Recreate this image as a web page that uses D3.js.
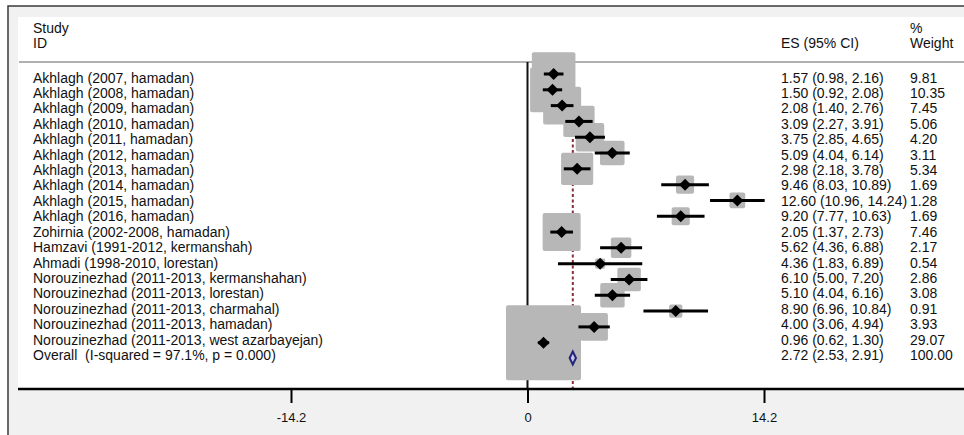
<!DOCTYPE html>
<html>
<head>
<meta charset="utf-8">
<script src="https://cdn.jsdelivr.net/npm/d3@7"></script>
<style>
  body { margin: 0; background: #fff; }
  svg { display: block; font-family: "Liberation Sans", Arial, sans-serif; }
</style>
</head>
<body>
<svg id="chart" width="964" height="435"></svg>
<script>
const studies = [
  "Akhlagh (2007, hamadan)",
  "Akhlagh (2008, hamadan)",
  "Akhlagh (2009, hamadan)",
  "Akhlagh (2010, hamadan)",
  "Akhlagh (2011, hamadan)",
  "Akhlagh (2012, hamadan)",
  "Akhlagh (2013, hamadan)",
  "Akhlagh (2014, hamadan)",
  "Akhlagh (2015, hamadan)",
  "Akhlagh (2016, hamadan)",
  "Zohirnia (2002-2008, hamadan)",
  "Hamzavi (1991-2012, kermanshah)",
  "Ahmadi (1998-2010, lorestan)",
  "Norouzinezhad (2011-2013, kermanshahan)",
  "Norouzinezhad (2011-2013, lorestan)",
  "Norouzinezhad (2011-2013, charmahal)",
  "Norouzinezhad (2011-2013, hamadan)",
  "Norouzinezhad (2011-2013, west azarbayejan)"
];
const es = [1.57, 1.50, 2.08, 3.09, 3.75, 5.09, 2.98, 9.46, 12.60, 9.20, 2.05, 5.62, 4.36, 6.10, 5.10, 8.90, 4.00, 0.96];
const lower = [0.98, 0.92, 1.40, 2.27, 2.85, 4.04, 2.18, 8.03, 10.96, 7.77, 1.37, 4.36, 1.83, 5.00, 4.04, 6.96, 3.06, 0.62];
const upper = [2.16, 2.08, 2.76, 3.91, 4.65, 6.14, 3.78, 10.89, 14.24, 10.63, 2.73, 6.88, 6.89, 7.20, 6.16, 10.84, 4.94, 1.30];
const weights = [9.81, 10.35, 7.45, 5.06, 4.20, 3.11, 5.34, 1.69, 1.28, 1.69, 7.46, 2.17, 0.54, 2.86, 3.08, 0.91, 3.93, 29.07];

const overallLabel = "Overall  (I-squared = 97.1%, p = 0.000)";
const overall = { es: 2.72, lo: 2.53, hi: 2.91, weight: 100.00 };
const tickValues = [-14.2, 0, 14.2];

const svg = d3.select("#chart");
const W = 964, H = 435;
const axisY = 389;
const n = studies.length;

const x = d3.scaleLinear().domain([-14.2, 14.2]).range([291, 764]);
// marker rows and text rows sit slightly apart, as in the Stata output
const yMark = d3.scaleLinear().domain([0, n - 1]).range([74, 342.7]);
const overallY = 358;
const yText = d3.scaleLinear().domain([0, n]).range([77.5, 355]);
const side = d3.scaleSqrt().domain([0, d3.max(weights)]).range([0, 75]);
const fmt = d3.format(".2f");

// frame and backgrounds
svg.append("rect").attr("x", 8).attr("y", 6).attr("width", W).attr("height", H)
  .attr("fill", "#f1f1f1").attr("stroke", "#3a3a3a").attr("stroke-width", 1.5);
svg.append("rect").attr("x", 18).attr("y", 17).attr("width", W - 18).attr("height", axisY - 17)
  .attr("fill", "#fff");

// header
svg.append("line").attr("x1", 19).attr("x2", W).attr("y1", 62).attr("y2", 62)
  .attr("stroke", "#b0b0b0").attr("stroke-width", 2);

const header = svg.append("g").attr("font-size", 14).attr("fill", "#111");
header.append("text").attr("x", 33).attr("y", 33).text("Study");
header.append("text").attr("x", 33).attr("y", 48).text("ID");
header.append("text").attr("x", 781).attr("y", 48).text("ES (95% CI)");
header.append("text").attr("x", 910).attr("y", 33).text("%");
header.append("text").attr("x", 910).attr("y", 48).text("Weight");

// reference lines
svg.append("line").attr("x1", x(0)).attr("x2", x(0)).attr("y1", 62).attr("y2", axisY)
  .attr("stroke", "#111").attr("stroke-width", 2);
svg.append("line").attr("x1", x(overall.es)).attr("x2", x(overall.es)).attr("y1", 62).attr("y2", axisY)
  .attr("stroke", "#8b2d3d").attr("stroke-width", 2).attr("stroke-dasharray", "3,2.5");

const rows = studies.map((s, i) => ({ s, es: es[i], lo: lower[i], hi: upper[i], w: weights[i], i }));

// weight boxes
svg.append("g").selectAll("rect").data(rows).join("rect")
  .attr("x", d => x(d.es) - side(d.w) / 2)
  .attr("y", d => yMark(d.i) - side(d.w) / 2)
  .attr("width", d => side(d.w))
  .attr("height", d => side(d.w))
  .attr("rx", 2)
  .attr("fill", "#b7b7b7");

// CIs
svg.append("g").selectAll("line").data(rows).join("line")
  .attr("x1", d => x(d.lo)).attr("x2", d => x(d.hi))
  .attr("y1", d => yMark(d.i)).attr("y2", d => yMark(d.i))
  .attr("stroke", "#000").attr("stroke-width", 3);

// point estimates
svg.append("g").selectAll("path").data(rows).join("path")
  .attr("d", d => {
    const cx = x(d.es), cy = yMark(d.i), r = 6;
    return `M${cx - r},${cy}L${cx},${cy - r}L${cx + r},${cy}L${cx},${cy + r}Z`;
  })
  .attr("fill", "#000");

// overall diamond
svg.append("path")
  .attr("d", `M${x(overall.lo)},${overallY}L${x(overall.es)},${overallY - 6.5}L${x(overall.hi)},${overallY}L${x(overall.es)},${overallY + 6.5}Z`)
  .attr("fill", "#c8c8e8").attr("stroke", "#23237a").attr("stroke-width", 2);

// text columns
const txt = svg.append("g").attr("font-size", 14).attr("fill", "#111");
txt.selectAll(".lab").data(rows).join("text").attr("class", "lab")
  .attr("x", 33).attr("y", d => yText(d.i) + 5).text(d => d.s);
txt.selectAll(".es").data(rows).join("text").attr("class", "es")
  .attr("x", 781).attr("y", d => yText(d.i) + 5)
  .text(d => `${fmt(d.es)} (${fmt(d.lo)}, ${fmt(d.hi)})`);
txt.selectAll(".wt").data(rows).join("text").attr("class", "wt")
  .attr("x", 910).attr("y", d => yText(d.i) + 5).text(d => fmt(d.w));
txt.append("text").attr("x", 33).attr("y", yText(n) + 5).attr("xml:space", "preserve").text(overallLabel);
txt.append("text").attr("x", 781).attr("y", yText(n) + 5)
  .text(`${fmt(overall.es)} (${fmt(overall.lo)}, ${fmt(overall.hi)})`);
txt.append("text").attr("x", 910).attr("y", yText(n) + 5).text(fmt(overall.weight));

// axis
svg.append("line").attr("x1", 18).attr("x2", W).attr("y1", axisY).attr("y2", axisY)
  .attr("stroke", "#000").attr("stroke-width", 2.5);
const axis = svg.append("g").attr("transform", `translate(0,${axisY})`)
  .call(d3.axisBottom(x).tickValues(tickValues).tickSize(14).tickPadding(10).tickFormat(d => String(d)));
axis.select(".domain").remove();
axis.selectAll(".tick line").attr("stroke", "#000").attr("stroke-width", 2);
axis.selectAll(".tick text").attr("font-size", 13).attr("fill", "#111")
  .attr("font-family", "'Liberation Sans', Arial, sans-serif");
</script>
</body>
</html>
